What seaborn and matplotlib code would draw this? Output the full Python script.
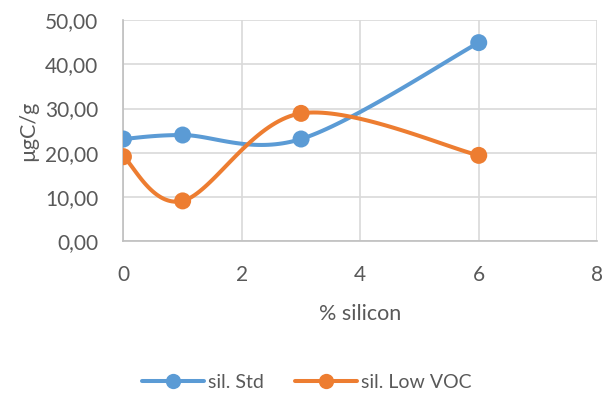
import numpy as np
import pandas as pd
import matplotlib
matplotlib.use("Agg")
import matplotlib.pyplot as plt
from matplotlib.lines import Line2D
import seaborn as sns

# Measured data
silicon_pct = [0, 1, 3, 6]
sil_std = [23.1, 24.0, 23.1, 44.9]
sil_low_voc = [19.1, 9.1, 28.9, 19.4]
series_names = ["sil. Std", "sil. Low VOC"]
colors = ["#5B9BD5", "#ED7D31"]
x_ticks = [0, 2, 4, 6, 8]
y_ticks = [0, 10, 20, 30, 40, 50]


def smooth_curve(xs, ys, steps=40):
    """Catmull-Rom style cubic Bezier smoothing through every point."""
    pts = np.column_stack([xs, ys]).astype(float)
    n = len(pts)
    out = [pts[0]]
    t = np.linspace(0, 1, steps)[1:, None]
    for i in range(n - 1):
        p0 = pts[i - 1] if i > 0 else pts[i]
        p1 = pts[i]
        p2 = pts[i + 1]
        p3 = pts[i + 2] if i + 2 < n else pts[i + 1]
        c1 = p1 + (p2 - p0) / 6.0
        c2 = p2 - (p3 - p1) / 6.0
        seg = ((1 - t) ** 3) * p1 + 3 * ((1 - t) ** 2) * t * c1 \
            + 3 * (1 - t) * t ** 2 * c2 + t ** 3 * p2
        out.extend(seg)
    out = np.array(out)
    return out[:, 0], out[:, 1]


sns.set_theme(style="white")
plt.rcParams["font.family"] = ["Lato", "DejaVu Sans"]

fig = plt.figure(figsize=(6.02, 3.94), dpi=100)
ax = fig.add_axes([0.205, 0.388, 0.787, 0.561])

rows = []
pts = []
for name, vals in zip(series_names, [sil_std, sil_low_voc]):
    sx, sy = smooth_curve(silicon_pct, vals)
    for order, (a, b) in enumerate(zip(sx, sy)):
        rows.append({"series": name, "x": a, "y": b, "order": order})
    for a, b in zip(silicon_pct, vals):
        pts.append({"series": name, "x": a, "y": b})
curves = pd.DataFrame(rows)
points = pd.DataFrame(pts)
palette = dict(zip(series_names, colors))

sns.lineplot(data=curves, x="x", y="y", hue="series", units="series",
             estimator=None, sort=False, palette=palette, linewidth=2.9,
             legend=False, ax=ax, zorder=3)
sns.scatterplot(data=points, x="x", y="y", hue="series", palette=palette,
                s=150, edgecolor="none", legend=False, ax=ax, zorder=4)

ax.set_xlim(0, 8)
ax.set_ylim(0, 50)
ax.set_xticks(x_ticks)
ax.set_yticks(y_ticks)
ax.set_yticklabels([f"{v:.2f}".replace(".", ",") for v in y_ticks])
ax.grid(True, color="#D9D9D9", linewidth=1.2)
ax.set_axisbelow(True)
for side in ["top", "right"]:
    ax.spines[side].set_visible(False)
for side in ["left", "bottom"]:
    ax.spines[side].set_color("#BFBFBF")
    ax.spines[side].set_linewidth(1.2)
ax.tick_params(axis="both", length=0, labelsize=15, colors="#595959")
ax.tick_params(axis="y", pad=18)
ax.tick_params(axis="x", pad=17)
ax.set_xlabel("% silicon", fontsize=15.5, color="#595959", labelpad=14)
ax.set_ylabel("µgC/g", fontsize=15.5, color="#595959", labelpad=5)

handles = [Line2D([0], [0], color=c, linewidth=2.9, marker="o",
                  markersize=11, markeredgewidth=0) for c in colors]
fig.legend(handles, series_names, loc="center", bbox_to_anchor=(0.51, 0.03),
           ncol=2, frameon=False, fontsize=14, handlelength=3.2,
           columnspacing=1.6, handletextpad=0.2, labelcolor="#595959")

fig.savefig("out.png", dpi=100)
